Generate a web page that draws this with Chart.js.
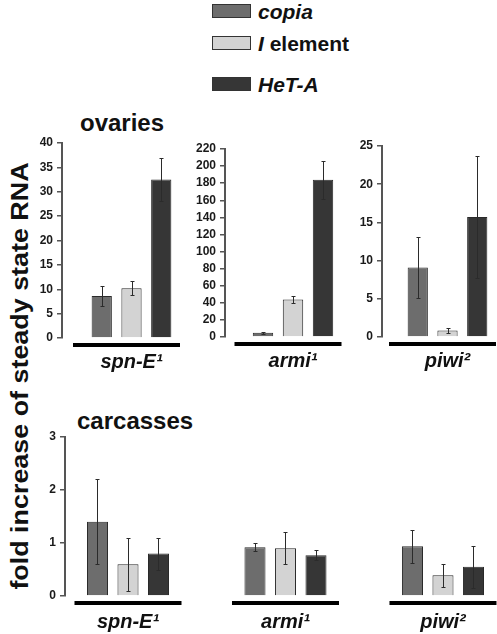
<!DOCTYPE html>
<html lang="en">
<head>
    <meta charset="UTF-8">
    <title>Fold increase of steady state RNA</title>
    <script src="https://cdn.jsdelivr.net/npm/chart.js"></script>
    <style>
        body { margin: 0; width: 497px; height: 634px; overflow: hidden; background: #fff; position: relative;
               font-family: "Liberation Sans", Arial, sans-serif; color: #111; }
        canvas { position: absolute; }
        .txt { position: absolute; font-weight: bold; white-space: nowrap; line-height: 1; }
        .sw { position: absolute; width: 39px; height: 14px; border: 1px solid #333; box-sizing: border-box; }
    </style>
</head>
<body>
    <div id="legend"></div>
    <div class="txt" style="left:80px; top:111px; font-size:24px;">ovaries</div>
    <div class="txt" style="left:77px; top:409px; font-size:24px;">carcasses</div>
    <div class="txt" id="ylab" style="left:20px; top:376px; font-size:24px; transform: translate(-50%, -50%) rotate(-90deg) scaleX(1.12);">fold increase of steady state RNA</div>

    <canvas id="ov0" width="179" height="241" style="left:22px; top:131px;"></canvas>
    <canvas id="ov1" width="176" height="234" style="left:185px; top:137px;"></canvas>
    <canvas id="ov2" width="171" height="237" style="left:342px; top:134px;"></canvas>
    <canvas id="car" width="472" height="209" style="left:25px; top:425px;"></canvas>

    <script>
        const seriesNames = ['copia', 'I element', 'HeT-A'];
        const seriesLegend = ['<i>copia</i>', '<i>I</i> element', '<i>HeT-A</i>'];
        const seriesColors = ['#6d6d6d', '#d3d3d3', '#363636'];
        const mutants = ['spn-E\u00b9', 'armi\u00b9', 'piwi\u00b2'];

        // ovaries (one value per mutant)
        const ovCopia = [8.6, 5, 9.1];
        const ovCopiaErr = [2.0, 1.2, 4.0];
        const ovIel = [10.2, 44, 0.85];
        const ovIelErr = [1.4, 4, 0.35];
        const ovHeta = [32.5, 184, 15.7];
        const ovHetaErr = [4.4, 22, 8.0];
        const ovMax = [40, 220, 25];
        const ovStep = [5, 20, 5];

        // carcasses
        const carCopia = [1.4, 0.92, 0.94];
        const carCopiaErr = [0.8, 0.08, 0.31];
        const carIel = [0.6, 0.9, 0.39];
        const carIelErr = [0.5, 0.3, 0.22];
        const carHeta = [0.8, 0.77, 0.55];
        const carHetaErr = [0.3, 0.1, 0.4];
        const carMax = 3;

        const FONT = '"Liberation Sans", Arial, sans-serif';

        // legend
        const legend = document.getElementById('legend');
        const legTops = [4, 36, 77];
        seriesLegend.forEach((s, i) => {
            legend.insertAdjacentHTML('beforeend',
                `<div class="sw" style="left:212px; top:${legTops[i]}px; background:${seriesColors[i]}"></div>` +
                `<div class="txt" style="left:258px; top:${legTops[i] - 3}px; font-size:21px;">${s}</div>`);
        });

        // error bars from dataset.errors
        const errorBars = {
            id: 'errorBars',
            afterDatasetsDraw(chart) {
                const ctx = chart.ctx, y = chart.scales.y;
                ctx.save();
                ctx.strokeStyle = '#2b2b2b';
                ctx.lineWidth = 1;
                chart.data.datasets.forEach((ds, i) => {
                    chart.getDatasetMeta(i).data.forEach((bar, j) => {
                        const v = ds.data[j].y !== undefined ? ds.data[j].y : ds.data[j];
                        const e = ds.errors[j];
                        const top = Math.round(y.getPixelForValue(v + e)) + 0.5;
                        const bot = Math.round(y.getPixelForValue(Math.max(v - e, 0))) + 0.5;
                        const x = Math.round(bar.x) + 0.5;
                        ctx.beginPath();
                        ctx.moveTo(x, top); ctx.lineTo(x, bot);
                        ctx.moveTo(x - 2, top); ctx.lineTo(x + 2, top);
                        ctx.moveTo(x - 2, bot); ctx.lineTo(x + 2, bot);
                        ctx.stroke();
                    });
                });
                ctx.restore();
            }
        };

        // thick black line under each group
        const underline = {
            id: 'underline',
            afterDraw(chart, args, opts) {
                const ctx = chart.ctx, x = chart.scales.x;
                ctx.save();
                ctx.fillStyle = '#000';
                x.ticks.forEach((t, i) => {
                    const c = x.getPixelForTick(i) + opts.shift;
                    ctx.fillRect(c - opts.half, chart.chartArea.bottom + opts.gap, opts.half * 2, 4);
                });
                ctx.restore();
            }
        };

        function yScale(max, step) {
            return {
                min: 0, max: max,
                afterFit: s => { s.width = 40; },
                ticks: { stepSize: step, autoSkip: false, color: '#1a1a1a', padding: 4,
                         font: { family: FONT, size: 12, weight: 'bold' } },
                grid: { drawOnChartArea: false, drawTicks: true, tickLength: 5, color: '#555', lineWidth: 1.5 },
                border: { display: true, color: '#555', width: 2 }
            };
        }

        const xTicks = { color: '#111', padding: 12, maxRotation: 0, autoSkip: false,
                         font: { family: FONT, size: 20, weight: 'bold', style: 'italic' } };

        function datasets(values, errs, catPct, barPct) {
            return values.map((v, i) => ({
                label: seriesNames[i],
                data: v,
                errors: errs[i],
                backgroundColor: seriesColors[i],
                borderColor: '#2a2a2a',
                borderWidth: 1,
                categoryPercentage: catPct,
                barPercentage: barPct
            }));
        }

        // ovaries: one chart per mutant
        const ovCat = [0.642, 0.662, 0.681];
        mutants.forEach((m, k) => {
            new Chart(document.getElementById('ov' + k), {
                type: 'bar',
                data: {
                    labels: [m],
                    datasets: datasets([[ovCopia[k]], [ovIel[k]], [ovHeta[k]]],
                                       [[ovCopiaErr[k]], [ovIelErr[k]], [ovHetaErr[k]]], ovCat[k], 0.68)
                },
                options: {
                    responsive: false, animation: false,
                    layout: { padding: { top: 12, left: 0, right: 0, bottom: 0 } },
                    plugins: { legend: { display: false }, tooltip: { enabled: false },
                               underline: { shift: -5, half: 53.5, gap: 5 } },
                    scales: {
                        x: { afterFit: s => { s.height = 34; }, ticks: xTicks,
                             grid: { display: false, drawTicks: false }, border: { display: false } },
                        y: yScale(ovMax[k], ovStep[k])
                    }
                },
                plugins: [errorBars, underline]
            });
        });

        // carcasses: one chart, linear x so groups sit where the original puts them
        const X_MIN = -0.4, X_MAX = 2.343;
        const pts = arr => arr.map((v, i) => ({ x: i, y: v }));
        new Chart(document.getElementById('car'), {
            type: 'bar',
            data: {
                datasets: datasets([pts(carCopia), pts(carIel), pts(carHeta)],
                                   [carCopiaErr, carIelErr, carHetaErr], 0.581, 0.69)
            },
            options: {
                responsive: false, animation: false,
                layout: { padding: { top: 12, left: 0, right: 0, bottom: 0 } },
                plugins: { legend: { display: false }, tooltip: { enabled: false },
                           underline: { shift: 0, half: 53.5, gap: 5 } },
                scales: {
                    x: { type: 'linear', min: X_MIN, max: X_MAX, offset: false, bounds: 'data',
                         afterBuildTicks: s => {
                             s.ticks = mutants.map((_, i) => ({ value: i }));
                             s.min = X_MIN; s.max = X_MAX;
                         },
                         afterFit: s => { s.height = 38; },
                         ticks: Object.assign({}, xTicks, { padding: 14, callback: (v, i) => mutants[i] }),
                         grid: { display: false, drawTicks: false }, border: { display: false } },
                    y: yScale(carMax, 1)
                }
            },
            plugins: [errorBars, underline]
        });
    </script>
</body>
</html>
